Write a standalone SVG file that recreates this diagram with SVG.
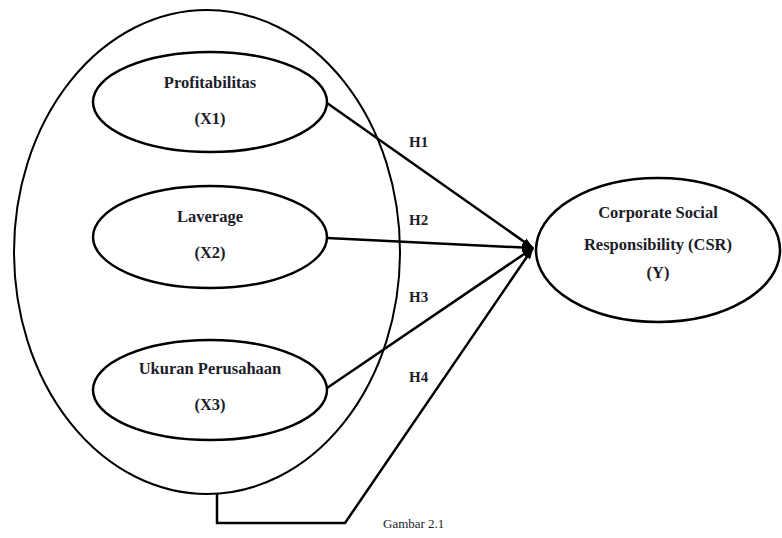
<svg xmlns="http://www.w3.org/2000/svg" width="782" height="538" viewBox="0 0 782 538">
<defs>
<marker id="ah" markerUnits="userSpaceOnUse" markerWidth="12" markerHeight="10" refX="11" refY="5" orient="auto">
<path d="M0,1 L12,5 L0,9 Z" fill="#000"/>
</marker>
<style>
.el{fill:none;stroke:#000;stroke-width:2.5}
.outer{fill:none;stroke:#000;stroke-width:2}
.t{font-family:"Liberation Serif","Times New Roman",serif;font-weight:bold;font-size:16.5px;fill:#1c1c2a;text-anchor:middle}
.h{font-family:"Liberation Serif","Times New Roman",serif;font-weight:bold;font-size:15px;fill:#1c1c2a}
.c{fill:none;stroke:#000;stroke-width:2.5}
</style>
</defs>
<rect width="782" height="538" fill="#fff"/>
<g id="group-x">
<ellipse class="outer" cx="207" cy="252" rx="193" ry="242"/>
</g>
<g id="x1">
<ellipse class="el" cx="210" cy="102" rx="117" ry="50"/>
<text class="t" x="210" y="88">Profitabilitas</text>
<text class="t" x="210" y="124">(X1)</text>
</g>
<g id="x2">
<ellipse class="el" cx="210" cy="237" rx="117" ry="51"/>
<text class="t" x="210" y="222">Laverage</text>
<text class="t" x="210" y="258">(X2)</text>
</g>
<g id="x3">
<ellipse class="el" cx="210" cy="390" rx="117" ry="50"/>
<text class="t" x="210" y="374">Ukuran Perusahaan</text>
<text class="t" x="210" y="410">(X3)</text>
</g>
<g id="y">
<ellipse class="el" cx="658" cy="250" rx="122" ry="72"/>
<text class="t" x="658" y="218">Corporate Social</text>
<text class="t" x="658" y="250">Responsibility (CSR)</text>
<text class="t" x="658" y="278">(Y)</text>
</g>
<g id="connectors">
<line class="c" x1="327" y1="103" x2="533" y2="248" marker-end="url(#ah)"/>
<line class="c" x1="327" y1="238" x2="533" y2="248" marker-end="url(#ah)"/>
<line class="c" x1="327" y1="388" x2="533" y2="248" marker-end="url(#ah)"/>
<polyline class="c" points="217,494 217,523 345,523 533,248" marker-end="url(#ah)"/>
<text class="h" x="409" y="147">H1</text>
<text class="h" x="409" y="225">H2</text>
<text class="h" x="409" y="302">H3</text>
<text class="h" x="409" y="382">H4</text>
</g>
<text x="383" y="528" font-family="Liberation Serif, Times New Roman, serif" font-size="13" fill="#1c1c2a">Gambar 2.1</text>
</svg>
